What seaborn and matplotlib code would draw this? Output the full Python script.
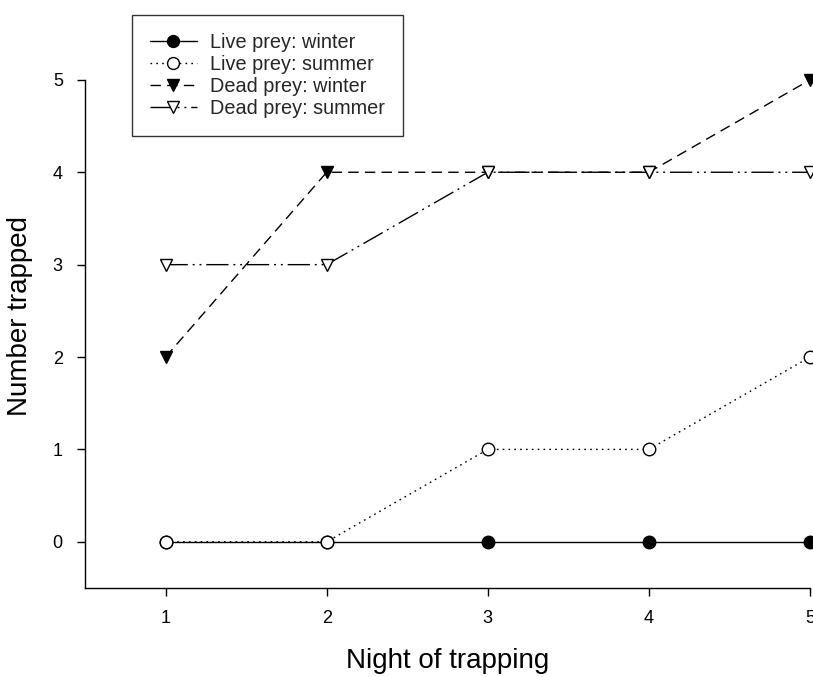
import matplotlib
matplotlib.use("Agg")
import matplotlib.pyplot as plt
import seaborn as sns
import pandas as pd

# Night of trapping vs number trapped
nights = [1, 2, 3, 4, 5]
live_winter = [0, 0, 0, 0, 0]
live_summer = [0, 0, 1, 1, 2]
dead_winter = [2, 4, 4, 4, 5]
dead_summer = [3, 3, 4, 4, 4]

series_names = ["Live prey: winter", "Live prey: summer",
                "Dead prey: winter", "Dead prey: summer"]

sns.set_theme(style="ticks")
plt.rcParams["font.family"] = ["Liberation Sans", "DejaVu Sans"]

fig = plt.figure(figsize=(8.13, 6.77), dpi=100)
ax = fig.add_axes([0.1046, 0.1315, 0.8917, 0.7505])

# draw order matters: open markers sit on top of filled ones
styles = [
    (live_winter, dict(marker="o", mfc="black", ls="-")),
    (live_summer, dict(marker="o", mfc="white", ls=(0, (1.2, 3.0)))),
    (dead_winter, dict(marker="v", mfc="black", ls=(0, (7.5, 4.5)))),
    (dead_summer, dict(marker="v", mfc="white",
                       ls=(0, (16, 3.5, 1.4, 3.5, 1.4, 3.5)))),
]

handles = []
for name, (vals, st) in zip(series_names, styles):
    df = pd.DataFrame({"night": nights, "n": vals})
    sns.lineplot(data=df, x="night", y="n", ax=ax, color="black",
                 linewidth=1.0, linestyle=st["ls"], marker=st["marker"],
                 markersize=9, markerfacecolor=st["mfc"],
                 markeredgecolor="black", markeredgewidth=1.0,
                 clip_on=False, zorder=3)
    handles.append(ax.lines[-1])

ax.set_xlim(0.5, 5.0)
ax.set_ylim(-0.5, 5.0)
ax.set_xticks(nights)
ax.set_yticks([0, 1, 2, 3, 4, 5])
ax.tick_params(axis="both", direction="out", length=6, width=1,
               labelsize=13, color="black", labelcolor="black", pad=10)
for s in ["left", "bottom"]:
    ax.spines[s].set_color("black")
    ax.spines[s].set_linewidth(1.0)
sns.despine(ax=ax)

ax.set_xlabel("Night of trapping", fontsize=20, labelpad=15, color="black")
ax.set_ylabel("Number trapped", fontsize=20, color="black")
ax.yaxis.set_label_coords(-0.072, 0.535)

leg = fig.legend(handles, series_names, loc="upper left",
                 bbox_to_anchor=(132 / 813, 1 - 15 / 677),
                 fontsize=14.3, frameon=True, fancybox=False,
                 handlelength=2.35, handletextpad=0.7, borderpad=0.9,
                 labelspacing=0.15, borderaxespad=0, markerscale=0.95)
leg.get_frame().set_edgecolor("black")
leg.get_frame().set_linewidth(1.0)

fig.savefig("out.png", dpi=100)
